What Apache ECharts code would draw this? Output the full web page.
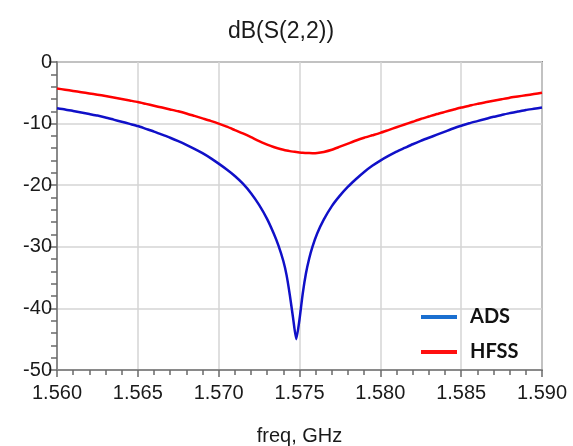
<!DOCTYPE html>
<html>
<head>
<meta charset="utf-8">
<script src="https://cdn.jsdelivr.net/npm/echarts@6/dist/echarts.min.js"></script>
<style>html,body{margin:0;padding:0;background:#fff}#c{width:573px;height:446px}</style>
</head>
<body>
<div id="c"></div>
<script>
const freq = [
  1.5600, 1.5605, 1.5610, 1.5615, 1.5620, 1.5625, 1.5630, 1.5635, 1.5640, 1.5645,
  1.5650, 1.5655, 1.5660, 1.5665, 1.5670, 1.5675, 1.5680, 1.5685, 1.5690, 1.5695,
  1.5700, 1.5705, 1.5710, 1.5715, 1.5720, 1.5725, 1.5730,
  1.5734, 1.5737, 1.5740, 1.5742, 1.5744, 1.5746, 1.5748, 1.5750, 1.5752, 1.5754,
  1.5756, 1.5758, 1.5761, 1.5765,
  1.5770, 1.5775, 1.5780, 1.5785, 1.5790, 1.5795, 1.5800, 1.5805, 1.5810, 1.5815,
  1.5820, 1.5825, 1.5830, 1.5835, 1.5840, 1.5845, 1.5850, 1.5855, 1.5860, 1.5865,
  1.5870, 1.5875, 1.5880, 1.5885, 1.5890, 1.5895, 1.5900
];
const ads = [
  -7.5, -7.7, -7.95, -8.2, -8.45, -8.7, -9.0, -9.35, -9.7, -10.05,
  -10.4, -10.85, -11.3, -11.8, -12.3, -12.85, -13.45, -14.1, -14.8, -15.6,
  -16.5, -17.45, -18.5, -19.75, -21.3, -23.2, -25.5,
  -27.8, -29.8, -32.3, -34.6, -37.8, -41.5, -45.0, -41.8, -37.6, -34.3,
  -31.9, -30.0, -27.8, -25.6,
  -23.4, -21.7, -20.25, -19.0, -17.85, -16.85, -16.0, -15.25, -14.55, -13.95,
  -13.35, -12.8, -12.3, -11.8, -11.3, -10.8, -10.35, -9.95, -9.6, -9.25,
  -8.9, -8.6, -8.3, -8.05, -7.8, -7.6, -7.4
];
const hfss = [
  -4.3, -4.5, -4.7, -4.9, -5.1, -5.3, -5.52, -5.75, -6.0, -6.25,
  -6.5, -6.8, -7.1, -7.4, -7.7, -8.0, -8.35, -8.75, -9.15, -9.55,
  -10.0, -10.5, -11.05, -11.6, -12.2, -12.85, -13.4,
  -13.8, -14.05, -14.25, -14.37, -14.47, -14.55, -14.62, -14.68, -14.73, -14.76,
  -14.79, -14.8, -14.77, -14.6,
  -14.25, -13.75, -13.25, -12.75, -12.3, -11.9, -11.5, -11.05, -10.6, -10.15,
  -9.7, -9.25, -8.85, -8.45, -8.1, -7.75, -7.4, -7.1, -6.8, -6.55,
  -6.3, -6.05, -5.8, -5.6, -5.4, -5.2, -5.0
];
const seriesNames = ['ADS', 'HFSS'];
const titleText = 'dB(S(2,2))';
const xName = 'freq, GHz';

const chart = echarts.init(document.getElementById('c'), null, {renderer: 'canvas'});
const font = '"Liberation Sans", Arial, sans-serif';
chart.setOption({
  animation: false,
  backgroundColor: '#fff',
  title: {
    text: titleText, left: 276, top: 15, textAlign: 'center',
    textStyle: {fontFamily: font, fontSize: 23, fontWeight: 'normal', color: '#1a1a1a'}
  },
  grid: {left: 57, right: 31, top: 62, bottom: 76, outerBoundsMode: 'none', containLabel: false,
         show: true, borderColor: '#8a8a8a', borderWidth: 2},
  legend: {
    orient: 'vertical', left: 416, top: 302, itemGap: 15,
    itemWidth: 36, itemHeight: 4, icon: 'rect',
    textStyle: {fontFamily: 'Lato, "Open Sans", sans-serif', fontWeight: 'bold', fontSize: 20, color: '#111', padding: [0, 0, 0, 8]},
    data: [
      {name: seriesNames[0], itemStyle: {color: '#1a6fd0'}},
      {name: seriesNames[1], itemStyle: {color: '#ff1010'}}
    ]
  },
  xAxis: {
    type: 'value', min: 1.56, max: 1.59, interval: 0.005, position: 'bottom',
    name: xName, nameLocation: 'middle', nameGap: 56,
    nameTextStyle: {fontFamily: font, fontSize: 20, color: '#1a1a1a'},
    axisLine: {onZero: false, lineStyle: {color: '#8a8a8a', width: 2}},
    axisTick: {show: true, length: 7, lineStyle: {color: '#6a6a6a', width: 1.5}},
    minorTick: {show: true, splitNumber: 5, length: 5, lineStyle: {color: '#6a6a6a', width: 1.5}},
    splitLine: {show: true, lineStyle: {color: '#d4d4d4', width: 1.5}},
    axisLabel: {fontFamily: font, fontSize: 20, color: '#1a1a1a', margin: 13, formatter: v => v.toFixed(3)}
  },
  yAxis: {
    type: 'value', min: -50, max: 0, interval: 10, position: 'left',
    axisLine: {show: true, onZero: false, lineStyle: {color: '#8a8a8a', width: 2}},
    axisTick: {show: true, length: 8, lineStyle: {color: '#6a6a6a', width: 1.5}},
    minorTick: {show: true, splitNumber: 5, length: 6, lineStyle: {color: '#6a6a6a', width: 1.5}},
    splitLine: {show: true, lineStyle: {color: '#d4d4d4', width: 1.5}},
    axisLabel: {fontFamily: font, fontSize: 20, color: '#1a1a1a', margin: 5}
  },
  series: [
    {name: seriesNames[0], type: 'line', smooth: 0.2, showSymbol: false, z: 3,
     lineStyle: {color: '#1010c8', width: 2.5, join: 'round'}, itemStyle: {color: '#1010c8'},
     data: freq.map((f, i) => [f, ads[i]])},
    {name: seriesNames[1], type: 'line', smooth: 0.2, showSymbol: false, z: 4,
     lineStyle: {color: '#ff0000', width: 2.5, join: 'round'}, itemStyle: {color: '#ff0000'},
     data: freq.map((f, i) => [f, hfss[i]])}
  ]
});
</script>
</body>
</html>
